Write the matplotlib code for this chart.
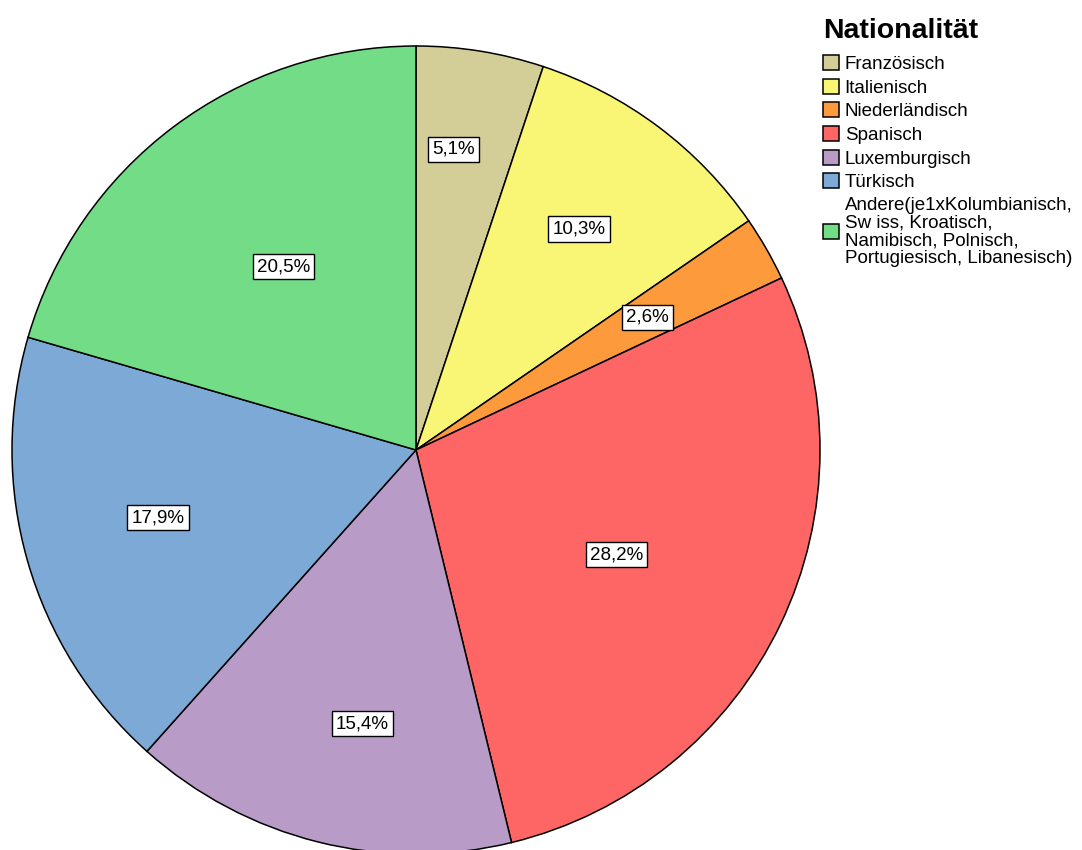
import matplotlib as mpl
import matplotlib.pyplot as plt
import numpy as np

mpl.rc("font", family="Liberation Sans")

categories = [
    "Französisch",
    "Italienisch",
    "Niederländisch",
    "Spanisch",
    "Luxemburgisch",
    "Türkisch",
    "Andere(je1xKolumbianisch,\nSw iss, Kroatisch,\nNamibisch, Polnisch,\nPortugiesisch, Libanesisch)",
]
percent = [5.1, 10.3, 2.6, 28.2, 15.4, 17.9, 20.5]
colors = ["#d3ce98", "#f9f676", "#fd9a3b", "#fe6666", "#b99bc8", "#7ca9d5", "#72dc86"]
# radial position / angle nudge of each label
label_r = [0.75, 0.68, 0.66, 0.56, 0.69, 0.66, 0.56]
label_dth = [2.0, 0.5, 0.0, -2.0, 3.0, -1.3, -1.0]

W, H = 1082, 850
fig = plt.figure(figsize=(W / 100, H / 100), dpi=100)
cx, cy, R = 416, 450, 404
ax = fig.add_axes([(cx - R) / W, (H - cy - R) / H, 2 * R / W, 2 * R / H])

wedges, _ = ax.pie(
    percent,
    colors=colors,
    startangle=90,
    counterclock=False,
    wedgeprops=dict(edgecolor="black", linewidth=1.1),
)
ax.set_xlim(-1, 1)
ax.set_ylim(-1, 1)
ax.set_aspect("equal")
ax.axis("off")

for w, p, r, d in zip(wedges, percent, label_r, label_dth):
    th = np.radians((w.theta1 + w.theta2) / 2 + d)
    ax.text(
        r * np.cos(th), r * np.sin(th),
        f"{p:.1f}%".replace(".", ","),
        ha="center", va="center", fontsize=13.5,
        bbox=dict(boxstyle="square,pad=0.22", fc="white", ec="black", lw=1.0),
    )

leg = fig.legend(
    wedges, categories,
    loc="upper left", bbox_to_anchor=(810 / W, 1 - 5 / H),
    title="Nationalität", title_fontproperties=dict(weight="bold", size=20.5),
    alignment="left", frameon=False, fontsize=13.5,
    handlelength=0.85, handleheight=0.85, handletextpad=0.3,
    labelspacing=0.3, borderpad=0.2,
)
leg._legend_box.sep += 4
for h in leg.legend_handles:
    h.set_edgecolor("black")
    h.set_linewidth(1.1)
for t in leg.get_texts():
    t.set_linespacing(1.05)

fig.savefig("out.png", dpi=100)
